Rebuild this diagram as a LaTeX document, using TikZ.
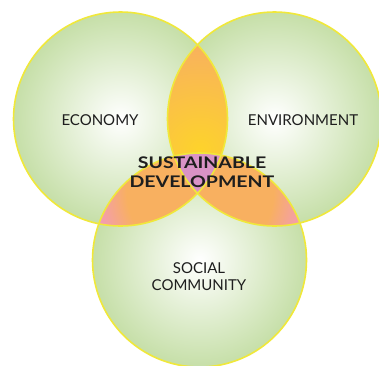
\documentclass[tikz,border=0pt]{standalone}
\usepackage{fontspec}
\setmainfont{Lato}
\definecolor{ballgreen}{HTML}{C6DFA8}
\definecolor{rimyellow}{HTML}{F0E83A}
\definecolor{lensyellow}{HTML}{FDD32B}
\definecolor{lensorange}{HTML}{F8B060}
\definecolor{lenspink}{HTML}{F29ABC}
\definecolor{corepink}{HTML}{D993C6}
\definecolor{txt}{HTML}{1E1E1E}
\pgfdeclareradialshading{greenball}{\pgfpoint{0bp}{0bp}}{color(0bp)=(white); color(5bp)=(white!80!ballgreen); color(25bp)=(ballgreen); color(50bp)=(ballgreen)}
\pgfdeclareradialshading{pinktip}{\pgfpoint{0bp}{0bp}}{color(0bp)=(lensorange); color(17bp)=(lensorange); color(25bp)=(lenspink); color(50bp)=(lenspink)}
\begin{document}
\begin{tikzpicture}[x=1pt, y=-1pt, font=\fontsize{15}{17}\selectfont, line join=round, line cap=round]
\useasboundingbox (0,0) rectangle (379,365);
\def\r{107}
\coordinate (eco) at (120.5,119);
\coordinate (env) at (274.5,119);
\coordinate (soc) at (199.5,260);
\foreach \c in {eco,env,soc}
\shade[shading=greenball] (\c) circle (\r);
% overlaps
\begin{scope}
\clip (eco) circle (\r); \clip (env) circle (\r);
\shade[inner color=lensyellow, outer color=lensorange] (200,150) circle (110);
\end{scope}
\foreach \c in {eco,env}{
\begin{scope}
\clip (\c) circle (\r); \clip (soc) circle (\r);
\shade[shading=pinktip] (200,190) circle (108);
\end{scope}}
\begin{scope}
\clip (eco) circle (\r); \clip (env) circle (\r); \clip (soc) circle (\r);
\fill[corepink] (0,0) rectangle (379,365);
\end{scope}
\foreach \c in {eco,env,soc}
\draw[rimyellow, line width=1.6pt] (\c) circle (\r);
% labels
\node[txt] (economy) at (100,120) {ECONOMY};
\node[txt] (environment) at (303,120) {ENVIRONMENT};
\node[txt, align=center, xscale=1.22, font=\fontsize{16}{19.5}\selectfont\bfseries] (sd) at (202,172) {SUSTAINABLE\\DEVELOPMENT};
\node[txt, align=center] (social) at (199,277) {SOCIAL\\COMMUNITY};
\end{tikzpicture}
\end{document}
